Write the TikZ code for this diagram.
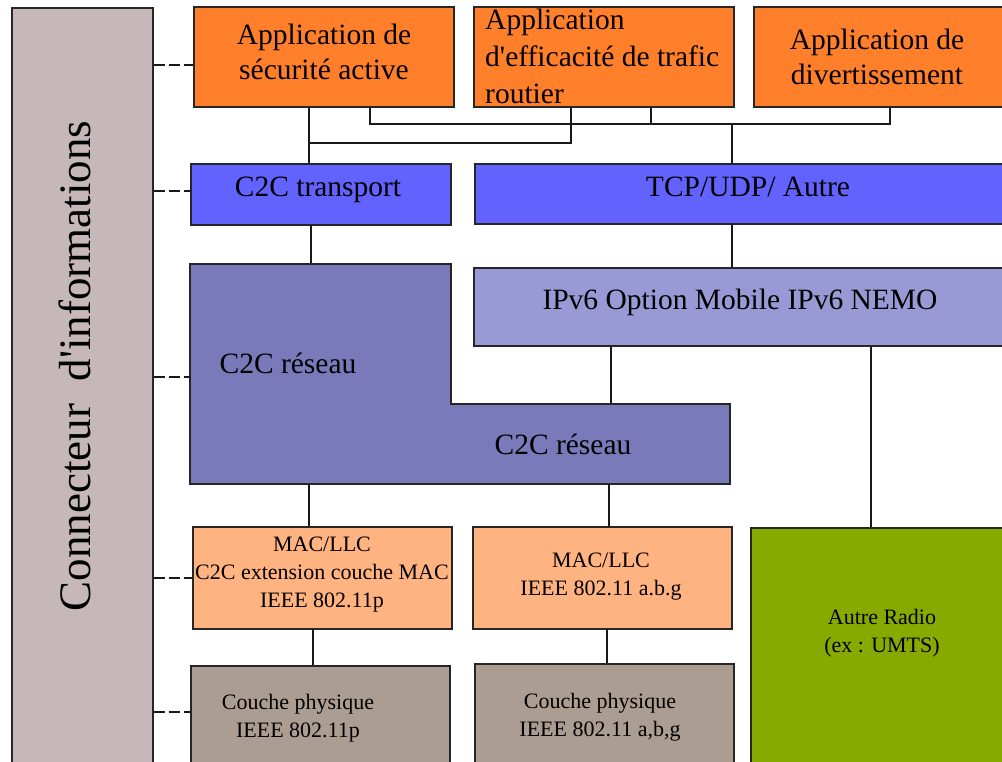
\documentclass[tikz,border=0pt]{standalone}
\usepackage{fontspec}
\setmainfont{Liberation Serif}
\newcommand{\apos}{\textquotesingle}
\definecolor{barcol}{HTML}{C6B8B8}
\definecolor{appcol}{HTML}{FF7F2A}
\definecolor{transcol}{HTML}{6262FF}
\definecolor{ipcol}{HTML}{9999D5}
\definecolor{netcol}{HTML}{7A7ABB}
\definecolor{maccol}{HTML}{FFB380}
\definecolor{phycol}{HTML}{AC9D93}
\definecolor{radiocol}{HTML}{88AA00}
\begin{document}
\begin{tikzpicture}[x=1pt,y=-1pt,
  box/.style={draw=black!85, line width=1.6pt, rectangle, inner sep=0pt, anchor=north west},
  big/.style={font=\fontsize{29.5}{35}\selectfont, align=center, inner sep=0pt},
  small/.style={font=\fontsize{22}{28}\selectfont, align=center, inner sep=0pt},
  link/.style={line width=1.5pt, draw=black!90},
  dashlink/.style={line width=1.5pt, draw=black!90, dash pattern=on 11pt off 4pt}]
\clip (0,0) rectangle (1002,761);
\fill[white] (0,0) rectangle (1002,761);

% information connector bar
\node[box, fill=barcol, minimum width=141pt, minimum height=790pt] (bar) at (11,7) {};
\node[rotate=90, font=\fontsize{45}{50}\selectfont, inner sep=0pt] (bartext) at (75,366) {Connecteur\ \ d\apos informations};

% application layer
\node[box, fill=appcol, minimum width=260pt, minimum height=100pt] (b1) at (193,6) {};
\node[box, fill=appcol, minimum width=260pt, minimum height=100pt] (b2) at (473,6) {};
\node[box, fill=appcol, minimum width=300pt, minimum height=100pt] (b3) at (753,6) {};
\node[big] (t1) at (324,52) {Application de\\sécurité active};
\node[big, align=left, anchor=west, font=\fontsize{29.5}{37}\selectfont] (t2) at (485,56) {Application\\d\apos efficacité de trafic\\routier};
\node[big] (t3) at (877,57) {Application de\\divertissement};

% transport layer
\node[box, fill=transcol, minimum width=260pt, minimum height=61pt] (tr) at (190,163) {};
\node[box, fill=transcol, minimum width=560pt, minimum height=60pt] (tcp) at (474,163) {};
\node[big] (ttr) at (318,190) {C2C transport};
\node[big] (ttcp) at (748,187) {TCP/UDP/ Autre};

% network layer
\node[box, fill=ipcol, minimum width=560pt, minimum height=78pt] (ip) at (473,267) {};
\node[big] (tip) at (740,302) {IPv6 Option Mobile IPv6 NEMO};
\coordinate (n-nw) at (190,264);
\coordinate (n-se) at (730,484);
\draw[line width=1.6pt, draw=black!85, fill=netcol]
  (n-nw) -- (451,264) -- (451,404) -- (730,404) -- (n-se) -- (190,484) -- cycle;
\node[big] (tn1) at (288,363) {C2C réseau};
\node[big] (tn2) at (563,444) {C2C réseau};

% link layer
\node[box, fill=maccol, minimum width=259pt, minimum height=102pt] (mac1) at (192,526) {};
\node[box, fill=maccol, minimum width=259pt, minimum height=102pt] (mac2) at (472,526) {};
\node[small] (tm1) at (322,575) {MAC/LLC\\C2C extension couche MAC\\IEEE 802.11p};
\node[small] (tm2) at (601,577) {MAC/LLC\\IEEE 802.11 a.b.g};

% physical layer
\node[box, fill=phycol, minimum width=259pt, minimum height=120pt] (phy1) at (190,665) {};
\node[box, fill=phycol, minimum width=259pt, minimum height=120pt] (phy2) at (474,663) {};
\node[small] (tp1) at (298,718) {Couche physique\\IEEE 802.11p};
\node[small] (tp2) at (600,717) {Couche physique\\IEEE 802.11 a,b,g};

% other radio
\node[box, fill=radiocol, minimum width=300pt, minimum height=260pt] (radio) at (750,527) {};
\node[small] (trd) at (882,633) {Autre Radio\\(ex : UMTS)};

% junction points of the connectors
\coordinate (ja) at (309,143);
\coordinate (jb) at (571,143);
\coordinate (k1) at (370,124);
\coordinate (k2) at (651,124);
\coordinate (kt) at (732,124);
\coordinate (k3) at (890,124);
\coordinate (xtr) at (311,0);
\coordinate (xip1) at (611,0);
\coordinate (xip2) at (871,0);
\coordinate (xn1) at (309,0);
\coordinate (xn2) at (609,0);
\coordinate (xm1) at (313,0);
\coordinate (xm2) at (607,0);

% applications to C2C transport
\draw[link] (b1.south -| ja) -- (tr.north -| ja);
\draw[link] (ja) -| (b2.south -| jb);
% applications to TCP/UDP
\draw[link] (b1.south -| k1) |- (k3) -- (b3.south -| k3);
\draw[link] (b2.south -| k2) -- (k2);
\draw[link] (kt) -- (tcp.north -| kt);
% lower links
\draw[link] (tcp.south -| kt) -- (ip.north -| kt);
\draw[link] (tr.south -| xtr) -- (n-nw -| xtr);
\draw[link] (ip.south -| xip1) -- (xip1 |- 0,404);
\draw[link] (ip.south -| xip2) -- (radio.north -| xip2);
\draw[link] (n-se -| xn1) -- (mac1.north -| xn1);
\draw[link] (n-se -| xn2) -- (mac2.north -| xn2);
\draw[link] (mac1.south -| xm1) -- (phy1.north -| xm1);
\draw[link] (mac2.south -| xm2) -- (phy2.north -| xm2);

% dashed ties to the information connector
\coordinate (d1) at (0,65);
\coordinate (d2) at (0,191);
\coordinate (d3) at (0,377);
\coordinate (d4) at (0,578);
\coordinate (d5) at (0,712);
\draw[dashlink] (bar.east |- d1) -- (b1.west |- d1);
\draw[dashlink] (bar.east |- d2) -- (tr.west |- d2);
\draw[dashlink] (bar.east |- d3) -- (n-nw |- d3);
\draw[dashlink] (bar.east |- d4) -- (mac1.west |- d4);
\draw[dashlink] (bar.east |- d5) -- (phy1.west |- d5);
\end{tikzpicture}
\end{document}
